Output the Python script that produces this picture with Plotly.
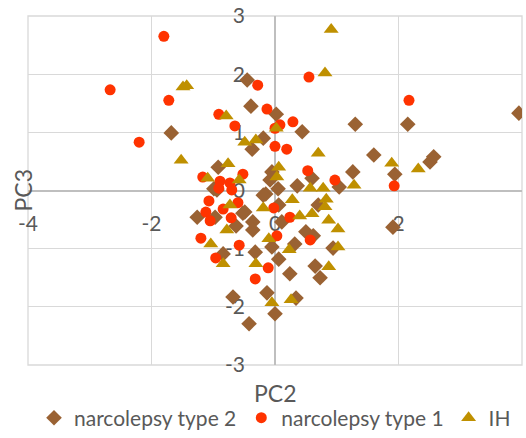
import plotly.graph_objects as go

# ---------------- data ----------------
nt2_x = [-0.45, -0.39, -1.68, -0.37, -0.92, 0.02, 0.44, 1.30, 2.15, 3.95, -0.19, 1.60, 2.51, 2.57,
         1.26, 1.94, 0.60, 0.36, -0.08, 1.04, 0.05, -0.15, -0.05, -0.99, 0.70, 0.06, 0.11, 0.50,
         0.62, -0.05, 0.32, 0.94, 0.06, 0.65, 0.73, 0.24, -0.13, 0.34, 0.00, 1.91, -0.52, -0.36,
         -0.36, -0.32, -0.42, -1.26, -0.97, -0.63, -0.84, -0.68, -0.49, -0.94, -0.19]
nt2_y = [1.90, 1.45, 0.99, 0.71, 0.40, 1.31, 1.01, 1.14, 1.14, 1.33, 0.90, 0.61, 0.49, 0.58,
         0.32, 0.28, 0.21, 0.08, 0.18, 0.06, 0.03, -0.06, 0.32, 0.03, -0.25, -0.25, -0.54, -0.71,
         -0.78, -0.97, -0.92, -0.99, -1.18, -1.30, -1.50, -1.43, -1.76, -1.85, -2.12, -0.63, -0.39, -0.54,
         -0.68, -1.06, -2.29, -0.46, -0.46, -0.61, -1.09, -1.83, -0.37, 0.01, -0.08]

nt1_x = [-1.80, -2.67, -1.72, -0.91, -0.65, -2.20, -0.28, -0.13, 0.55, 2.17, 0.08, 0.29, 0.00,
         0.00, 0.19, 0.53, 0.97, 1.93, -0.52, -1.17, -0.89, -0.73, -0.91, -0.70, -1.07, -0.84,
         -0.60, -1.12, -1.05, -0.71, -1.20, -0.58, -0.96, -0.32, -0.02, 0.24, 0.03, -0.11, 0.57]
nt1_y = [2.65, 1.73, 1.55, 1.31, 1.11, 0.83, 1.81, 1.40, 1.95, 1.55, 1.13, 1.18, 1.07,
         0.76, 0.71, 0.34, 0.18, 0.08, 0.28, 0.23, 0.16, 0.13, 0.04, 0.01, -0.18, -0.32,
         -0.21, -0.37, -0.52, -0.47, -0.82, -0.94, -1.16, -1.52, -0.30, -0.46, -0.78, -1.33, -0.85]

ih_x = [0.91, 0.81, -1.49, -1.43, -0.79, -1.52, -0.49, -0.31, -0.76, -1.09, -0.58, 0.02, 0.70,
        1.89, 2.32, 0.06, 0.03, 0.57, 0.78, 1.28, 0.28, 0.83, 0.81, -0.19, 0.40, 0.60, 0.87,
        1.02, -0.10, 0.23, 1.02, 0.87, -0.05, 0.26, -0.73, -0.78, -1.04, -0.84, -0.31]
ih_y = [2.77, 2.02, 1.78, 1.80, 1.28, 0.52, 0.83, 0.87, 0.46, 0.21, 0.18, 1.07, 0.64,
        0.47, 0.37, 0.40, 0.23, 0.04, 0.04, 0.09, -0.16, -0.15, -0.28, -0.30, -0.44, -0.40, -0.51,
        -0.66, -0.83, -1.02, -0.97, -1.31, -1.93, -1.88, -0.25, -0.68, -0.92, -1.26, -1.26]

series_names = ["narcolepsy type 2", "narcolepsy type 1", "IH"]
x_range = [-4, 4]
y_range = [-3, 3]
x_ticks = [-4, -2, 0, 2, 4]
y_ticks = [-3, -2, -1, 0, 1, 2, 3]
x_title = "PC2"
y_title = "PC3"

# ---------------- figure ----------------
fig = go.Figure()
fig.add_trace(go.Scatter(x=nt2_x, y=nt2_y, mode="markers", name=series_names[0],
                         marker=dict(symbol="diamond", size=12, color="#9A6233")))
fig.add_trace(go.Scatter(x=nt1_x, y=nt1_y, mode="markers", name=series_names[1],
                         marker=dict(symbol="circle", size=11, color="#FF3300")))
fig.add_trace(go.Scatter(x=ih_x, y=ih_y, mode="markers", name=series_names[2],
                         marker=dict(symbol="triangle-up", size=13, color="#BF9000")))

grey_text = "#595959"
font_family = "Lato, Open Sans, DejaVu Sans, sans-serif"

x_pos = (0 - x_range[0]) / (x_range[1] - x_range[0])
y_pos = (0 - y_range[0]) / (y_range[1] - y_range[0])

fig.update_layout(
    width=526, height=438,
    margin=dict(l=28, r=4, t=16, b=73, autoexpand=False),
    paper_bgcolor="white", plot_bgcolor="white",
    font=dict(family=font_family, color=grey_text, size=20),
    xaxis=dict(range=x_range, tickvals=x_ticks, ticktext=[str(v) for v in x_ticks],
               showgrid=True, gridcolor="#D9D9D9", gridwidth=1.3,
               zeroline=True, zerolinecolor="#BFBFBF", zerolinewidth=1.5,
               anchor="free", position=y_pos, layer="below traces", automargin=False,
               ticks="", ticklabelstandoff=18, showline=False,
               tickfont=dict(size=21, color=grey_text)),
    yaxis=dict(range=y_range, tickvals=y_ticks, ticktext=[str(v) for v in y_ticks],
               showgrid=True, gridcolor="#D9D9D9", gridwidth=1.3,
               zeroline=True, zerolinecolor="#BFBFBF", zerolinewidth=1.5,
               anchor="free", position=x_pos, layer="below traces", automargin=False,
               ticks="", ticklabelstandoff=30, showline=False,
               tickfont=dict(size=21, color=grey_text)),
    showlegend=True,
    legend=dict(orientation="h", x=0.5, xanchor="center", y=-0.152, yanchor="middle",
                font=dict(size=21, color=grey_text), itemwidth=30,
                bgcolor="rgba(0,0,0,0)"),
    shapes=[dict(type="rect", xref="x domain", yref="y domain", x0=0, x1=1, y0=0, y1=1,
                 line=dict(color="#D9D9D9", width=1.3), layer="below")],
    annotations=[
        dict(text=x_title, xref="paper", yref="paper", x=0.5, y=-28 / 349, showarrow=False,
             xanchor="center", yanchor="middle", font=dict(size=23, color=grey_text)),
        dict(text=y_title, xref="paper", yref="paper", x=-6 / 494, y=0.5, showarrow=False,
             textangle=-90, xanchor="center", yanchor="middle", font=dict(size=23, color=grey_text)),
    ],
)

fig.write_html("out.html", config={"displayModeBar": False},
               post_script="document.body.style.margin='0';document.body.style.padding='0';")
